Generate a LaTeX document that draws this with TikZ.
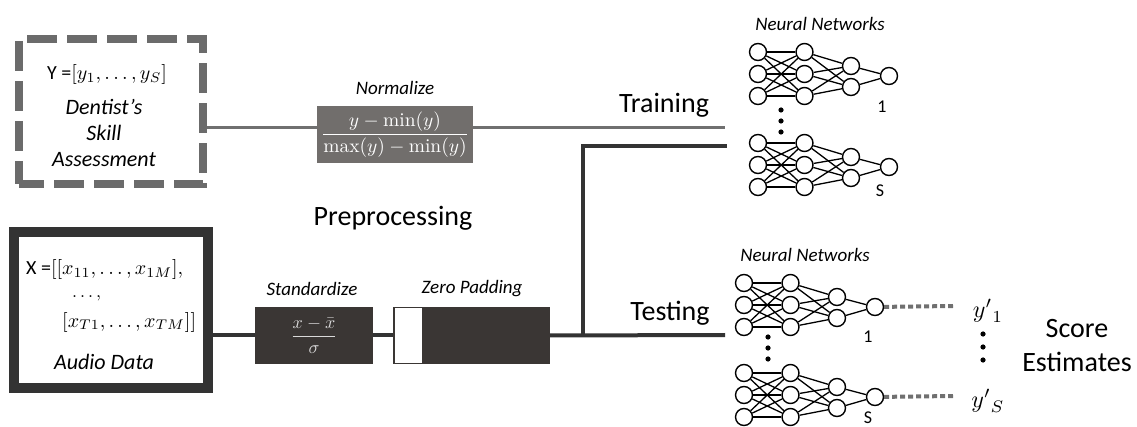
\documentclass[tikz,border=0pt]{standalone}
\usepackage{fontspec}
\newfontfamily\cb{Carlito}
\definecolor{gline}{HTML}{707070}
\definecolor{dk}{HTML}{333333}
\definecolor{normfill}{HTML}{716E6C}
\definecolor{stdfill}{HTML}{3A3634}
\definecolor{dboxc}{HTML}{6B6B6B}
\tikzset{
  neu/.style={circle,draw=black,line width=1.4pt,fill=white,minimum size=17pt,inner sep=0pt},
  nnedge/.style={line width=1.3pt,black},
  itl/.style={font=\cb\itshape\fontsize{19}{22}\selectfont,inner sep=0pt},
  boxit/.style={font=\cb\itshape\fontsize{22}{26}\selectfont,inner sep=0pt},
  big/.style={font=\cb\fontsize{28}{34}\selectfont,inner sep=0pt},
  numlab/.style={font=\cb\fontsize{18}{21}\selectfont,inner sep=0pt},
  mathtxt/.style={inner sep=0pt},
  gconn/.style={draw=gline,line width=3pt},
  kconn/.style={draw=dk,line width=4pt},
  dotline/.style={draw=gline,line width=4pt,dash pattern=on 5pt off 3pt},
  vdot/.style={fill=black}
}
\newcommand\nnet[3]{%
  \foreach \i in {1,2,3}{%
    \node[neu] (#1a\i) at ({#2},{#3+22*(\i-1)}) {};
    \node[neu] (#1b\i) at ({#2+46.5},{#3+22*(\i-1)}) {};
  }
  \node[neu] (#1c1) at ({#2+93},{#3+14}) {};
  \node[neu] (#1c2) at ({#2+93},{#3+35}) {};
  \node[neu] (#1d) at ({#2+131},{#3+24}) {};
  \foreach \i in {1,2,3}{%
    \foreach \j in {1,2,3}{\draw[nnedge] (#1a\i) -- (#1b\j);}
    \foreach \j in {1,2}{\draw[nnedge] (#1b\i) -- (#1c\j);}
  }
  \foreach \j in {1,2}{\draw[nnedge] (#1c\j) -- (#1d);}
}
\begin{document}
\begin{tikzpicture}[x=1pt,y=-1pt]
\useasboundingbox (0,0) rectangle (1137,427);

% ---- Y box (dashed)
\node[draw=dboxc,line width=8pt,dash pattern=on 30pt off 10pt,dash phase=5pt,
      minimum width=184pt,minimum height=145pt,inner sep=0pt] (ybox) at (111,111.5) {};
\node[mathtxt] (ytxt) at (107,75) {\scalebox{2}{{\cb Y =}$[y_1,\ldots,y_S]$}};
\node[boxit] (dent) at (104,107) {Dentist’s};
\node[boxit] (skill) at (104,133) {Skill};
\node[boxit] (assess) at (104,160) {Assessment};

% ---- X box (solid)
\node[draw=dk,line width=10pt,minimum width=194pt,minimum height=156pt,inner sep=0pt] (xbox) at (111,310) {};
\node[mathtxt,anchor=west] (x1) at (26,270) {\scalebox{2}{{\cb X =}$[[x_{11},\ldots,x_{1M}],$}};
\node[mathtxt,anchor=base west] (x2) at (72,298) {\scalebox{1.8}{$\ldots,$}};
\node[mathtxt,anchor=west] (x3) at (62,322) {\scalebox{2}{$[x_{T1},\ldots,x_{TM}]]$}};
\node[boxit] (audio) at (104,362) {Audio Data};

% ---- Normalize
\node[fill=normfill,minimum width=156pt,minimum height=57pt,inner sep=0pt,
      text=white] (norm) at (395,134.5)
      {\scalebox{1.95}{$\displaystyle\frac{y-\min(y)}{\max(y)-\min(y)}$}};
\node[itl] (normlab) at (395,88) {Normalize};

% ---- Standardize
\node[fill=stdfill,minimum width=118pt,minimum height=57pt,inner sep=0pt,
      text=white!85!black] (std) at (314,335.5)
      {\scalebox{1.8}{$\displaystyle\frac{x-\bar{x}}{\sigma}$}};
\node[itl] (stdlab) at (312,289) {Standardize};

% ---- Zero padding
\node[fill=white,draw=stdfill,line width=1.2pt,minimum width=29pt,minimum height=56pt,inner sep=0pt] (zpw) at (408.5,335.5) {};
\node[fill=stdfill,minimum width=127pt,minimum height=57pt,inner sep=0pt] (zpd) at (486.5,335.5) {};
\node[itl] (zplab) at (472,289) {Zero Padding};

\node[big] (prep) at (393,218) {Preprocessing};
\node[big] (train) at (664,105) {Training};
\node[big] (test) at (670,313) {Testing};

% ---- connectors
\coordinate (tr) at (725,128);
\coordinate (tb) at (725,146);
\coordinate (te) at (725,335);
\coordinate (jn) at (583,335);
\draw[gconn] (ybox.east |- tr) -- (norm.west |- tr);
\draw[gconn] (norm.east |- tr) -- (tr);
\draw[kconn] (std.west -| xbox.east) -- (std.west);
\draw[kconn] (std.east) -- (zpw.west);
\draw[kconn] (zpd.east) -- (te);
\draw[kconn,line cap=rect] (jn) -- (jn |- tb) -- (tb);

% ---- neural networks
\node[itl] (nnt) at (820,24) {Neural Networks};
\nnet{ta}{758}{52}
\nnet{tb}{758}{143}
\node[numlab] (l1a) at (882,107) {1};
\node[numlab] (lsa) at (880,191) {S};
\fill[vdot] (781,110) circle (2.6pt) (781,121) circle (2.6pt) (781,132) circle (2.6pt);

\node[itl] (nnb) at (805,255) {Neural Networks};
\nnet{ea}{744}{283}
\nnet{eb}{744}{373}
\node[numlab] (l1b) at (868,337) {1};
\node[numlab] (lsb) at (868,418) {S};
\fill[vdot] (768,337) circle (2.6pt) (768,348) circle (2.6pt) (768,359) circle (2.6pt);

% ---- outputs
\coordinate (o1) at (953,306);
\coordinate (o2) at (953,396);
\draw[dotline] (ead) -- (o1);
\draw[dotline] (ebd) -- (o2);
\node[mathtxt] (yp1) at (988,311) {\scalebox{2.4}{${y'}_{1}$}};
\node[mathtxt] (yps) at (988,401) {\scalebox{2.4}{${y'}_{S}$}};
\fill[vdot] (983,334) circle (2.6pt) (983,347) circle (2.6pt) (983,360) circle (2.6pt);
\node[big,align=center,font=\cb\fontsize{28}{34}\selectfont] (score) at (1077,346) {Score\\Estimates};
\end{tikzpicture}
\end{document}
